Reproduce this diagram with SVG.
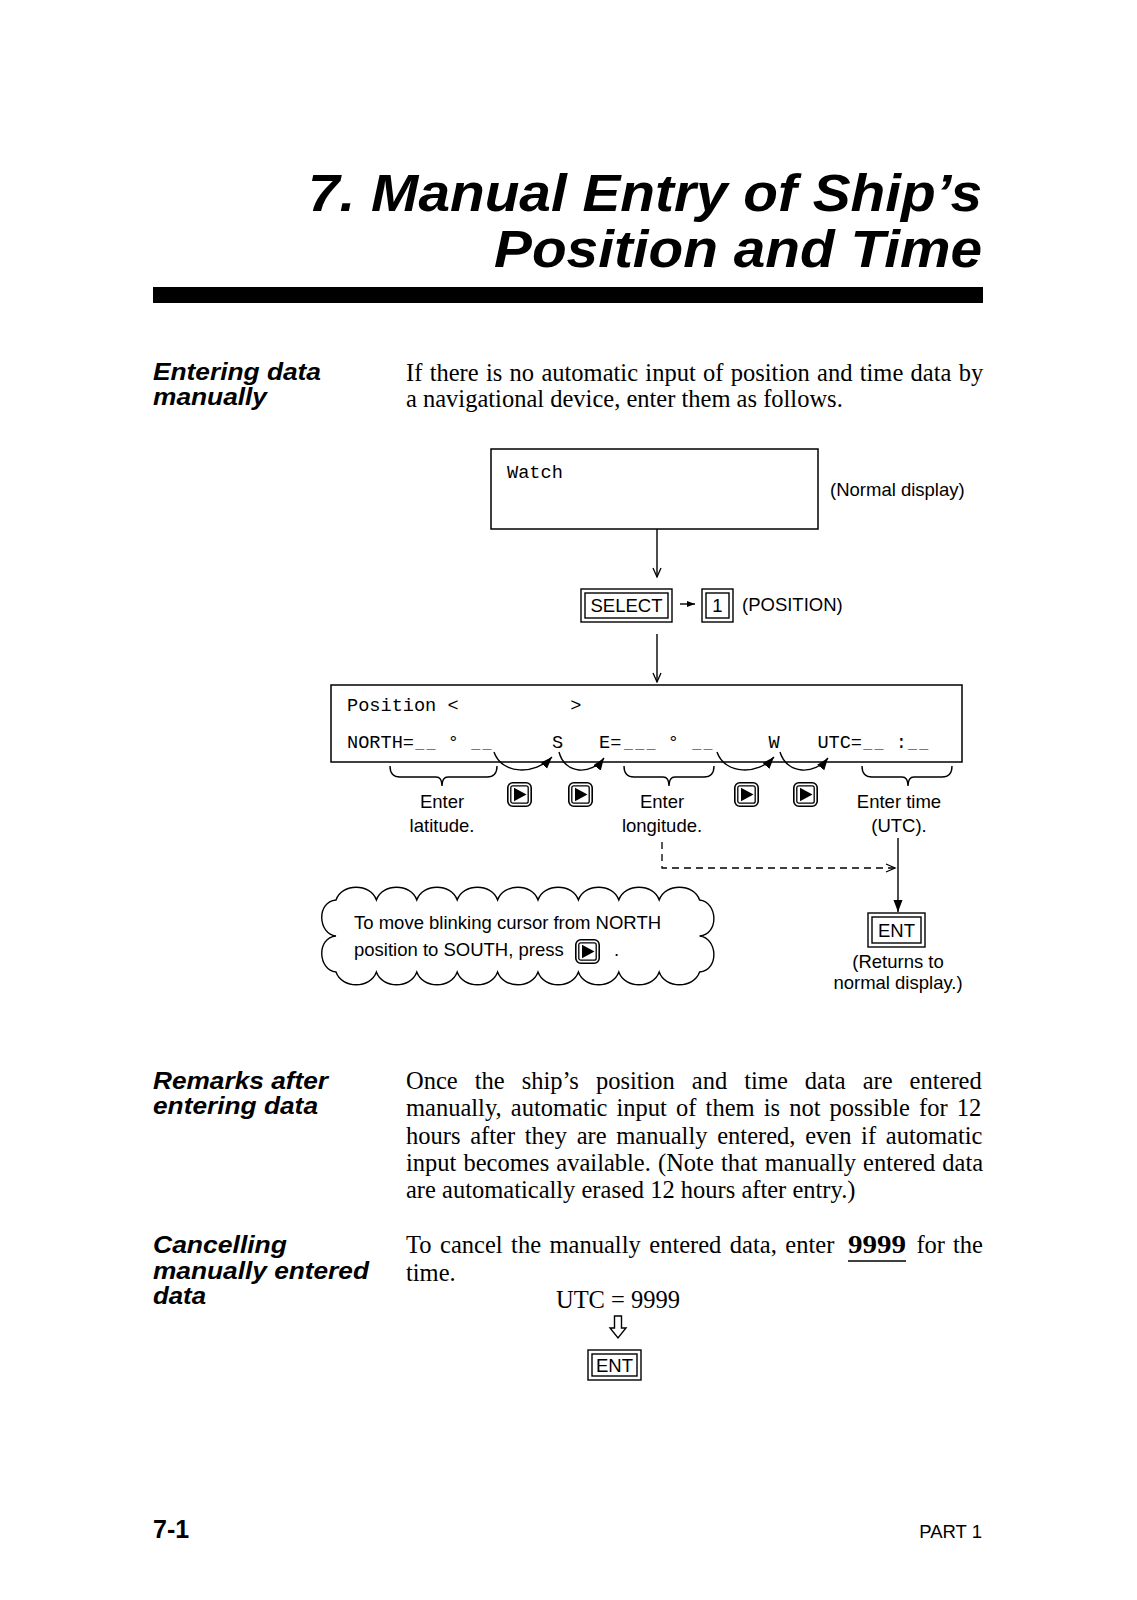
<svg xmlns="http://www.w3.org/2000/svg" width="1137" height="1600" viewBox="0 0 1137 1600">
<style>
text{fill:#000}
.title{font-family:"Liberation Sans",Arial,sans-serif;font-weight:bold;font-style:italic;font-size:51px}
.head{font-family:"Liberation Sans",Arial,sans-serif;font-weight:bold;font-style:italic;font-size:23px}
.foot{font-family:"Liberation Sans",Arial,sans-serif;font-weight:bold;font-size:25px}
.body{font-family:"Liberation Serif","Times New Roman",serif;font-size:24.5px}
.sans{font-family:"Liberation Sans",Arial,sans-serif;font-size:18.5px}
.mono{font-family:"Liberation Mono","Courier New",monospace;font-size:18.6px}
.us{font-size:15px}
.box{fill:#fff;stroke:#000;stroke-width:1.5}
.key{fill:#fff;stroke:#000;stroke-width:1.4}
.ln{fill:none;stroke:#000;stroke-width:1.4}
.dash{fill:none;stroke:#000;stroke-width:1.3;stroke-dasharray:7 5}
</style>
<defs>
<marker id="openV" markerUnits="userSpaceOnUse" markerWidth="12" markerHeight="12" refX="10" refY="5" orient="auto">
<path d="M1,1 L10,5 L1,9" fill="none" stroke="#000" stroke-width="1.3"/>
</marker>
<marker id="solid" markerUnits="userSpaceOnUse" markerWidth="14" markerHeight="10" refX="12" refY="4.5" orient="auto">
<path d="M0,0 L12,4.5 L0,9 Z" fill="#000"/>
</marker>
<marker id="solidS" markerUnits="userSpaceOnUse" markerWidth="10" markerHeight="8" refX="8" refY="3" orient="auto">
<path d="M0,0 L8,3 L0,6 Z" fill="#000"/>
</marker>
<symbol id="kArrow" viewBox="0 0 25 25" width="25" height="25" overflow="visible">
<rect x="0.8" y="0.8" width="23.4" height="23.4" rx="5" fill="#fff" stroke="#000" stroke-width="1.6"/>
<rect x="3.8" y="3.8" width="17.4" height="17.4" rx="2" fill="none" stroke="#000" stroke-width="1.3"/>
<path d="M7,5.8 L19.5,12.5 L7,19.2 Z" fill="#000"/>
</symbol>
</defs>

<!-- Title -->
<g id="title">
<text class="title" x="982" y="211" text-anchor="end" textLength="674" lengthAdjust="spacingAndGlyphs">7. Manual Entry of Ship’s</text>
<text class="title" x="982" y="267" text-anchor="end" textLength="488" lengthAdjust="spacingAndGlyphs">Position and Time</text>
<rect x="153" y="287" width="830" height="16" fill="#000"/>
</g>

<!-- Section 1 -->
<g id="sec-entering">
<text class="head" x="153" y="380" textLength="168" lengthAdjust="spacingAndGlyphs">Entering data</text>
<text class="head" x="153" y="405" textLength="114" lengthAdjust="spacingAndGlyphs">manually</text>
<text class="body" x="406" y="381" word-spacing="1.2">If there is no automatic input of position and time data by</text>
<text class="body" x="406" y="407">a navigational device, enter them as follows.</text>
</g>

<!-- Watch display -->
<g id="node-watch">
<rect class="box" x="491" y="449" width="327" height="80"/>
<text class="mono" x="507" y="478">Watch</text>
<text class="sans" x="830" y="496">(Normal display)</text>
</g>

<!-- SELECT -> 1 -->
<g id="node-select">
<rect class="key" x="581" y="589" width="91" height="33"/>
<rect class="key" x="585" y="593" width="83" height="25"/>
<text class="sans" x="626.5" y="612" text-anchor="middle" font-size="18">SELECT</text>
</g>
<g id="node-key1">
<rect class="key" x="702" y="589" width="31" height="33"/>
<rect class="key" x="706" y="593" width="23" height="25"/>
<text class="sans" x="717.5" y="612" text-anchor="middle" font-size="18">1</text>
<text class="sans" x="742" y="611">(POSITION)</text>
</g>

<!-- Position display -->
<g id="node-position">
<rect class="box" x="331" y="685" width="631" height="77"/>
<text class="mono" x="347" y="711" xml:space="preserve" style="white-space:pre">Position &lt;          &gt;</text>
<text class="mono" y="748">
<tspan x="347">NORTH=</tspan><tspan class="us" x="415.3">_</tspan><tspan class="us" x="426.5">_</tspan><tspan x="447.8">°</tspan><tspan class="us" x="471.3">_</tspan><tspan class="us" x="482.5">_</tspan><tspan x="552">S</tspan><tspan x="599">E=</tspan><tspan class="us" x="624.1">_</tspan><tspan class="us" x="635.3">_</tspan><tspan class="us" x="646.5">_</tspan><tspan x="667.8">°</tspan><tspan class="us" x="692.3">_</tspan><tspan class="us" x="703.5">_</tspan><tspan x="768.6">W</tspan><tspan x="817.4">UTC=</tspan><tspan class="us" x="863.3">_</tspan><tspan class="us" x="874.5">_</tspan><tspan x="895.8">:</tspan><tspan class="us" x="908.1">_</tspan><tspan class="us" x="919.3">_</tspan>
</text>
</g>

<!-- Braces and labels -->
<g id="node-latitude">
<path class="ln" d="M390,766 Q390,777 400,777 L436,777 Q442,777 442,786 Q442,777 448,777 L487,777 Q497,777 497,766"/>
<text class="sans" x="442" y="808" text-anchor="middle">Enter</text>
<text class="sans" x="442" y="832" text-anchor="middle">latitude.</text>
</g>
<g id="node-longitude">
<path class="ln" d="M624,766 Q624,777 634,777 L663,777 Q669,777 669,786 Q669,777 675,777 L704,777 Q714,777 714,766"/>
<text class="sans" x="662" y="808" text-anchor="middle">Enter</text>
<text class="sans" x="662" y="832" text-anchor="middle">longitude.</text>
</g>
<g id="node-time">
<path class="ln" d="M862,766 Q862,777 872,777 L902,777 Q908,777 908,786 Q908,777 914,777 L942,777 Q952,777 952,766"/>
<text class="sans" x="899" y="808" text-anchor="middle">Enter time</text>
<text class="sans" x="899" y="832" text-anchor="middle">(UTC).</text>
</g>
<g id="node-keys">
<use href="#kArrow" x="507" y="782"/>
<use href="#kArrow" x="568" y="782"/>
<use href="#kArrow" x="734" y="782"/>
<use href="#kArrow" x="793" y="782"/>
</g>

<!-- Cloud note -->
<g id="node-note">
<path class="ln" stroke-width="1.6" d="M336,900 c6,-17 34.4,-17 40.4,0 c6,-17 34.4,-17 40.4,0 c6,-17 34.4,-17 40.4,0 c6,-17 34.4,-17 40.4,0 c6,-17 34.4,-17 40.4,0 c6,-17 34.4,-17 40.4,0 c6,-17 34.4,-17 40.4,0 c6,-17 34.4,-17 40.4,0 c6,-17 34.4,-17 40.4,0 c18,2 20,34 0,36 c18,2 20,34 0,36 c-6,17 -34.4,17 -40.4,0 c-6,17 -34.4,17 -40.4,0 c-6,17 -34.4,17 -40.4,0 c-6,17 -34.4,17 -40.4,0 c-6,17 -34.4,17 -40.4,0 c-6,17 -34.4,17 -40.4,0 c-6,17 -34.4,17 -40.4,0 c-6,17 -34.4,17 -40.4,0 c-6,17 -34.4,17 -40.4,0 c-18,-2 -20,-34 0,-36 c-18,-2 -20,-34 0,-36 Z"/>
<text class="sans" x="354" y="929">To move blinking cursor from NORTH</text>
<text class="sans" x="354" y="956">position to SOUTH, press</text>
<use href="#kArrow" x="575" y="939"/>
<text class="sans" x="614" y="956">.</text>
</g>

<!-- ENT -->
<g id="node-ent">
<rect class="key" x="868" y="913" width="57" height="34"/>
<rect class="key" x="872" y="917" width="49" height="26"/>
<text class="sans" x="896.5" y="937" text-anchor="middle" font-size="18">ENT</text>
<text class="sans" x="898" y="968" text-anchor="middle">(Returns to</text>
<text class="sans" x="898" y="989" text-anchor="middle">normal display.)</text>
</g>

<!-- Connectors -->
<g id="connectors">
<line class="ln" x1="657" y1="529" x2="657" y2="577" marker-end="url(#openV)"/>
<line class="ln" x1="657" y1="634" x2="657" y2="682" marker-end="url(#openV)"/>
<line class="ln" x1="680" y1="604" x2="695" y2="604" marker-end="url(#solidS)"/>
<path class="ln" d="M494,752 C502,775 535,775 552,757" marker-end="url(#solid)"/>
<path class="ln" d="M559,752 C565,775 592,775 604,758" marker-end="url(#solid)"/>
<path class="ln" d="M717,752 C725,775 758,775 774,757" marker-end="url(#solid)"/>
<path class="ln" d="M780,752 C787,775 815,775 828,758" marker-end="url(#solid)"/>
<path class="dash" d="M662,842 L662,868 L895,868" marker-end="url(#openV)"/>
<line class="ln" x1="898" y1="838" x2="898" y2="912" marker-end="url(#solid)"/>
</g>

<!-- Remarks -->
<g id="sec-remarks">
<text class="head" x="153" y="1089" textLength="175" lengthAdjust="spacingAndGlyphs">Remarks after</text>
<text class="head" x="153" y="1114" textLength="165" lengthAdjust="spacingAndGlyphs">entering data</text>
<text class="body" x="406" y="1089" word-spacing="10.9">Once the ship’s position and time data are entered</text>
<text class="body" x="406" y="1116" word-spacing="3">manually, automatic input of them is not possible for 12</text>
<text class="body" x="406" y="1144" word-spacing="3.6">hours after they are manually entered, even if automatic</text>
<text class="body" x="406" y="1171" word-spacing="1">input becomes available. (Note that manually entered data</text>
<text class="body" x="406" y="1198">are automatically erased 12 hours after entry.)</text>
</g>

<!-- Cancelling -->
<g id="sec-cancel">
<text class="head" x="153" y="1253" textLength="134" lengthAdjust="spacingAndGlyphs">Cancelling</text>
<text class="head" x="153" y="1279" textLength="216" lengthAdjust="spacingAndGlyphs">manually entered</text>
<text class="head" x="153" y="1304" textLength="53" lengthAdjust="spacingAndGlyphs">data</text>
<text class="body" x="406" y="1253" word-spacing="2.4">To cancel the manually entered data, enter</text>
<text class="body" x="848" y="1253" font-weight="bold" font-size="27" textLength="58" lengthAdjust="spacingAndGlyphs">9999</text>
<line x1="848" y1="1261" x2="906" y2="1261" stroke="#000" stroke-width="1.5"/>
<text class="body" x="983" y="1253" text-anchor="end" word-spacing="2">for the</text>
<text class="body" x="406" y="1281">time.</text>
<text class="body" x="618" y="1308" text-anchor="middle">UTC = 9999</text>
<path class="ln" stroke-width="1.3" d="M614.5,1316 L621.5,1316 L621.5,1328 L626,1328 L618,1338 L610,1328 L614.5,1328 Z"/>
</g>
<g id="node-ent2">
<rect class="key" x="588" y="1350" width="53" height="30"/>
<rect class="key" x="592" y="1354" width="45" height="22"/>
<text class="sans" x="614.5" y="1372" text-anchor="middle" font-size="18">ENT</text>
</g>

<!-- Footer -->
<g id="footer">
<text class="foot" x="153" y="1538">7-1</text>
<text class="sans" x="982" y="1538" text-anchor="end" font-size="18">PART 1</text>
</g>
</svg>
